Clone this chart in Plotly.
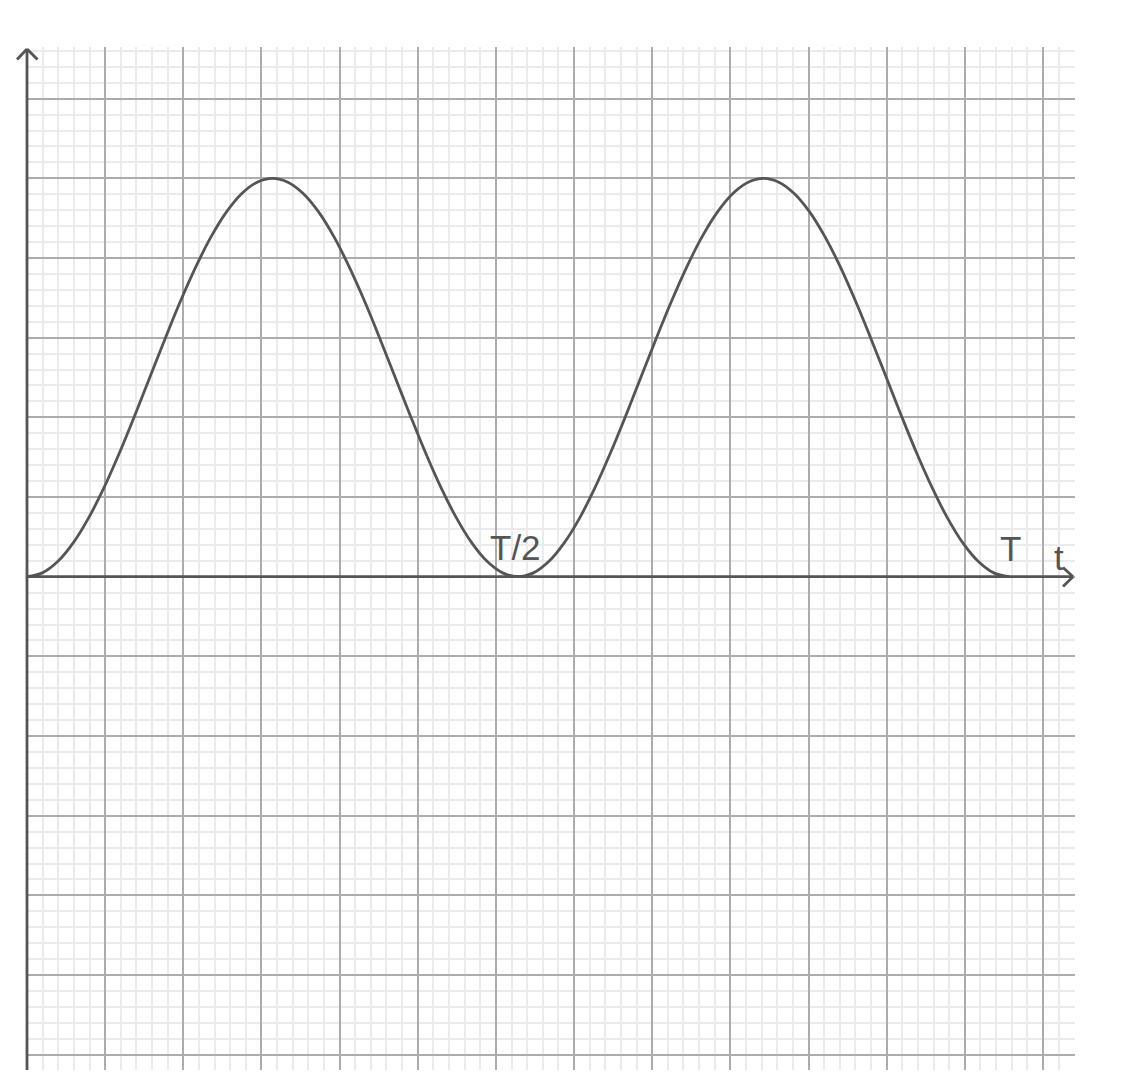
import plotly.graph_objects as go

# ---- data (grid units: 1 major square) ----
t_values = [0.0, 0.196, 0.393, 0.589, 0.785, 0.982, 1.178, 1.374, 1.571,
            1.767, 1.963, 2.160, 2.356, 2.553, 2.749, 2.945, 3.142,
            3.338, 3.534, 3.731, 3.927, 4.123, 4.320, 4.516, 4.712,
            4.909, 5.105, 5.301, 5.498, 5.694, 5.890, 6.087, 6.283,
            6.480, 6.676, 6.872, 7.069, 7.265, 7.461, 7.658, 7.854,
            8.050, 8.247, 8.443, 8.639, 8.836, 9.032, 9.228, 9.425,
            9.621, 9.817, 10.014, 10.210, 10.407, 10.603, 10.799, 10.996,
            11.192, 11.388, 11.585, 11.781, 11.977, 12.174, 12.370, 12.566]
y_values = [0.0, 0.048, 0.190, 0.421, 0.732, 1.111, 1.543, 2.012, 2.5,
            2.988, 3.457, 3.889, 4.268, 4.579, 4.810, 4.952, 5.0,
            4.952, 4.810, 4.579, 4.268, 3.889, 3.457, 2.988, 2.5,
            2.012, 1.543, 1.111, 0.732, 0.421, 0.190, 0.048, 0.0,
            0.048, 0.190, 0.421, 0.732, 1.111, 1.543, 2.012, 2.5,
            2.988, 3.457, 3.889, 4.268, 4.579, 4.810, 4.952, 5.0,
            4.952, 4.810, 4.579, 4.268, 3.889, 3.457, 2.988, 2.5,
            2.012, 1.543, 1.111, 0.732, 0.421, 0.190, 0.048, 0.0]
half_label = "T/2"
full_label = "T"
axis_label = "t"

# ---- layout geometry (pixels) ----
W, H = 1140, 1090
ML, MR, MT, MB = 27, 65, 47, 20
PW, PH = W - ML - MR, H - MT - MB
UX, UY = 78.15, 79.67            # pixels per grid unit
Y0PX = 576.7                     # pixel row of y = 0
x_range = [0, PW / UX]
y_range = [-(H - MB - Y0PX) / UY, (Y0PX - MT) / UY]

INK = "#555555"
MAJOR = "#acacac"
MINOR = "#ebebeb"
FONT = "Liberation Sans, Arial, sans-serif"


def px(xp):
    return (xp - ML) / PW


def py(yp):
    return (H - MB - yp) / PH


fig = go.Figure()
fig.add_trace(go.Scatter(
    x=t_values, y=y_values, mode="lines",
    line=dict(color=INK, width=2.8, shape="spline", smoothing=1.0),
    hoverinfo="skip", showlegend=False,
))

axis_common = dict(
    showgrid=True, gridcolor=MAJOR, gridwidth=2, dtick=1, tick0=0,
    minor=dict(showgrid=True, gridcolor=MINOR, gridwidth=2, dtick=0.2, tick0=0),
    showticklabels=False, ticks="", zeroline=False, showline=False,
    fixedrange=True,
)
fig.update_xaxes(range=x_range, **axis_common)
fig.update_yaxes(range=y_range, **axis_common)

line_style = dict(color=INK, width=2.8)
shapes = []
# y axis with arrow
shapes.append(dict(type="line", xref="paper", yref="paper",
                   x0=px(27), y0=py(1070), x1=px(27), y1=py(49), line=line_style))
shapes.append(dict(type="line", xref="paper", yref="paper",
                   x0=px(17), y0=py(59.5), x1=px(27), y1=py(49), line=line_style))
shapes.append(dict(type="line", xref="paper", yref="paper",
                   x0=px(37.5), y0=py(59.5), x1=px(27), y1=py(49), line=line_style))
# x axis with arrow
shapes.append(dict(type="line", xref="paper", yref="paper",
                   x0=px(27), y0=py(Y0PX), x1=px(1073), y1=py(Y0PX), line=line_style))
shapes.append(dict(type="line", xref="paper", yref="paper",
                   x0=px(1063), y0=py(567.5), x1=px(1073), y1=py(Y0PX), line=line_style))
shapes.append(dict(type="line", xref="paper", yref="paper",
                   x0=px(1063), y0=py(586.5), x1=px(1073), y1=py(Y0PX), line=line_style))
fig.update_layout(shapes=shapes)

mid_i = len(t_values) // 2
annotations = [
    dict(x=t_values[mid_i] - 0.03, y=0.37, xref="x", yref="y", text=half_label,
         showarrow=False, font=dict(family=FONT, size=35, color=INK)),
    dict(x=t_values[-1] + 0.02, y=0.36, xref="x", yref="y", text=full_label,
         showarrow=False, font=dict(family=FONT, size=35, color=INK)),
    dict(x=(1059 - ML) / UX, y=0.24, xref="x", yref="y", text=axis_label,
         showarrow=False, font=dict(family=FONT, size=35, color=INK)),
]
fig.update_layout(
    annotations=annotations,
    width=W, height=H,
    margin=dict(l=ML, r=MR, t=MT, b=MB, pad=0),
    plot_bgcolor="white", paper_bgcolor="white",
    showlegend=False,
)

fig.write_html("out.html", config={"displayModeBar": False},
               post_script="document.body.style.margin='0';document.body.style.overflow='hidden';")
